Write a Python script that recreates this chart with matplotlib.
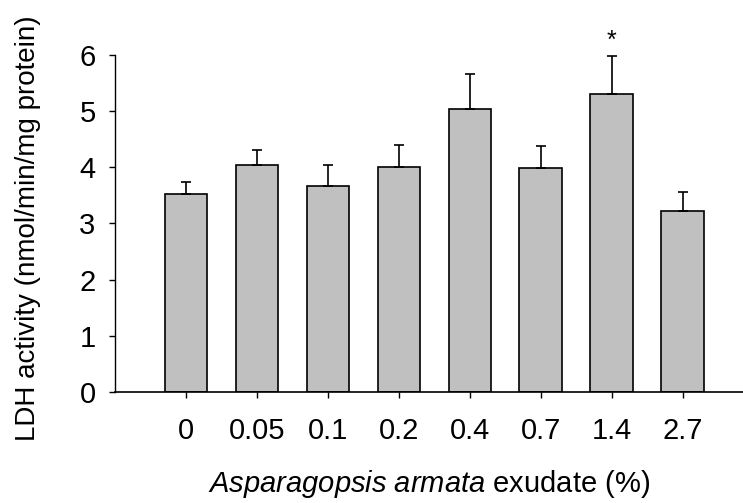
import numpy as np
import matplotlib
matplotlib.use('Agg')
import matplotlib.pyplot as plt

# Data
doses = ['0', '0.05', '0.1', '0.2', '0.4', '0.7', '1.4', '2.7']
ldh_mean = [3.53, 4.05, 3.67, 4.00, 5.03, 3.99, 5.30, 3.22]
ldh_err = [0.20, 0.26, 0.38, 0.40, 0.63, 0.39, 0.68, 0.34]
signif = [False, False, False, False, False, False, True, False]

plt.rcParams['font.family'] = 'Liberation Sans'
plt.rcParams['mathtext.fontset'] = 'custom'
plt.rcParams['mathtext.rm'] = 'Liberation Sans'
plt.rcParams['mathtext.it'] = 'Liberation Sans:italic'

fig = plt.figure(figsize=(7.43, 5.03), dpi=100)
ax = fig.add_axes([0.1548, 0.2207, 0.8452, 0.67])

x = np.arange(len(doses))
ax.bar(x, ldh_mean, width=0.6, color='#c0c0c0', edgecolor='black', linewidth=1.2,
       yerr=[np.zeros(len(ldh_err)), ldh_err], error_kw=dict(ecolor='black', elinewidth=1.2,
       capsize=3.8, capthick=1.2))

# significance star
for i in range(len(doses)):
    if signif[i]:
        ax.text(x[i], ldh_mean[i] + ldh_err[i] + 0.06, '*', ha='center', va='bottom',
                fontsize=18)

ax.set_xlim(-1.0, 7.85)
ax.set_ylim(0, 6)
ax.set_xticks(x)
ax.set_xticklabels(doses)
ax.set_yticks(np.arange(0, 7, 1))

ax.spines['top'].set_visible(False)
ax.spines['right'].set_visible(False)
ax.spines['left'].set_linewidth(1.0)
ax.spines['bottom'].set_linewidth(1.2)
ax.tick_params(axis='both', direction='out', length=4, width=1, labelsize=21)
ax.tick_params(axis='y', pad=10)
ax.tick_params(axis='x', pad=14)

ax.set_ylabel('LDH activity (nmol/min/mg protein)', fontsize=20)
ax.set_xlabel(r'$Asparagopsis\ armata$ exudate (%)', fontsize=21)
ax.yaxis.set_label_coords(-0.118, 0.487)
ax.xaxis.set_label_coords(0.5, -0.225)

plt.savefig('out.png', dpi=100)
